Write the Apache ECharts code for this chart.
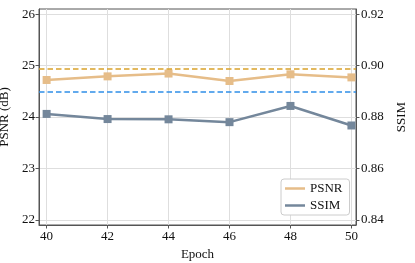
<!DOCTYPE html>
<html><head><meta charset="utf-8">
<script src="https://cdn.jsdelivr.net/npm/echarts@6/dist/echarts.min.js"></script>
<style>html,body{margin:0;padding:0;background:#fff}#c{width:415px;height:263px}</style>
</head><body><div id="c"></div>
<script>
const epochs = [40, 42, 44, 46, 48, 50];
const psnr = [24.72, 24.79, 24.845, 24.70, 24.83, 24.77];
const ssim = [0.8812, 0.8792, 0.8791, 0.8780, 0.8843, 0.8767];
const psnrBaseline = 24.93;
const ssimBaseline = 0.89;
const xTicks = [40, 42, 44, 46, 48, 50];
const psnrTicks = [22, 23, 24, 25, 26];
const ssimTicks = [0.84, 0.86, 0.88, 0.90, 0.92];

const font = 'Liberation Serif';
const chart = echarts.init(document.getElementById('c'), null, {renderer: 'canvas'});
const lab = {fontFamily: font, fontSize: 13, color: '#111'};
chart.setOption({
  animation: false,
  backgroundColor: '#fff',
  grid: {left: 39, right: 59, top: 9, bottom: 38, show: true, borderColor: '#555', borderWidth: 1, outerBoundsMode: 'none'},
  legend: {
    orient: 'vertical', left: 281, top: 179,
    data: ['PSNR', 'SSIM'],
    icon: 'rect', itemWidth: 20, itemHeight: 2.5, itemGap: 4,
    padding: [3, 7, 3, 4],
    backgroundColor: '#fff', borderColor: '#ccc', borderWidth: 1, borderRadius: 3,
    textStyle: {fontFamily: font, fontSize: 13, color: '#111'}
  },
  xAxis: {
    type: 'value', min: 39.75, max: 50.15,
    name: 'Epoch', nameLocation: 'middle', nameGap: 21,
    nameTextStyle: {fontFamily: font, fontSize: 13, color: '#111'},
    axisLine: {show: true, onZero: false, lineStyle: {color: '#555', width: 1}},
    axisTick: {show: true, length: 3.5, customValues: xTicks, lineStyle: {color: '#555'}},
    axisLabel: Object.assign({customValues: xTicks, margin: 5, formatter: v => String(v)}, lab),
    splitLine: {show: true, lineStyle: {color: '#dedede', width: 1}}
  },
  yAxis: [
    {
      type: 'value', min: 21.9, max: 26.1, position: 'left',
      name: 'PSNR (dB)', nameLocation: 'middle', nameGap: 18, nameRotate: 90,
      nameTextStyle: {fontFamily: font, fontSize: 13, color: '#111'},
      axisLine: {show: true, lineStyle: {color: '#555', width: 1}},
      axisTick: {show: true, length: 3.5, customValues: psnrTicks, lineStyle: {color: '#555'}},
      axisLabel: Object.assign({customValues: psnrTicks, margin: 4, formatter: v => String(v)}, lab),
      splitLine: {show: true, lineStyle: {color: '#dedede', width: 1}}
    },
    {
      type: 'value', min: 0.838, max: 0.922, position: 'right',
      name: 'SSIM', nameLocation: 'middle', nameGap: 38, nameRotate: 90,
      nameTextStyle: {fontFamily: font, fontSize: 13, color: '#111'},
      axisLine: {show: true, lineStyle: {color: '#555', width: 1}},
      axisTick: {show: true, length: 3.5, customValues: ssimTicks, lineStyle: {color: '#555'}},
      axisLabel: Object.assign({customValues: ssimTicks, margin: 5, formatter: v => v.toFixed(2)}, lab),
      splitLine: {show: false}
    }
  ],
  series: [
    {
      name: 'PSNR', type: 'line', yAxisIndex: 0,
      data: epochs.map((e, i) => [e, psnr[i]]),
      symbol: 'rect', symbolSize: 8,
      lineStyle: {color: '#e6bd89', width: 2.5},
      itemStyle: {color: '#e6bd89'},
      markLine: {
        silent: true, symbol: 'none', label: {show: false},
        lineStyle: {color: '#d9a12a', type: [5.5, 3], width: 1.5},
        data: [{yAxis: psnrBaseline}]
      },
      z: 3
    },
    {
      name: 'SSIM', type: 'line', yAxisIndex: 1,
      data: epochs.map((e, i) => [e, ssim[i]]),
      symbol: 'rect', symbolSize: 8,
      lineStyle: {color: '#74879b', width: 2.5},
      itemStyle: {color: '#74879b'},
      markLine: {
        silent: true, symbol: 'none', label: {show: false},
        lineStyle: {color: '#2f8fe8', type: [5.5, 3], width: 1.5},
        data: [{yAxis: ssimBaseline}]
      },
      z: 3
    }
  ]
});
</script></body></html>
